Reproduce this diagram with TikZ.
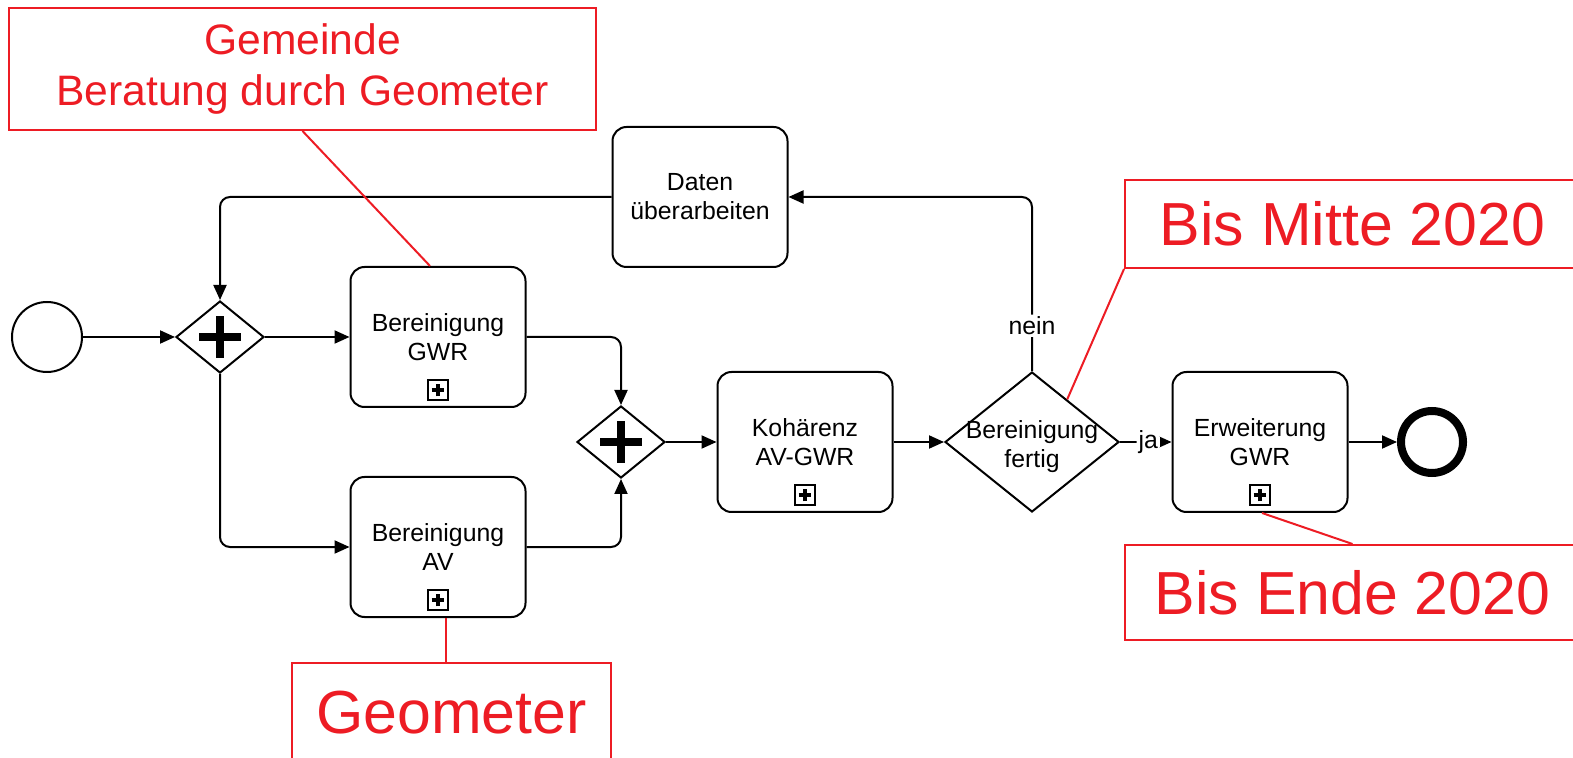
\documentclass[tikz,border=0pt]{standalone}
\usepackage{fontspec}
\setmainfont{Liberation Sans}
\usetikzlibrary{shapes.geometric,arrows.meta,calc}
\definecolor{annred}{RGB}{237,28,36}

\begin{document}
\begin{tikzpicture}[x=0.5pt, y=-0.5pt,
        flow/.style={draw=black, line width=1pt, rounded corners=5pt, -{Triangle[length=7.5pt,width=6.5pt]}},
        task/.style={draw, line width=1pt, rounded corners=7pt, minimum width=87.5pt, minimum height=70pt, align=center, font=\fontsize{12.4}{14.5}\selectfont, inner sep=0pt},
        subproc/.style={draw, line width=0.8pt, minimum size=10pt, inner sep=0pt, path picture={
            \draw[line width=1.8pt] ([xshift=-3.2pt]path picture bounding box.center) -- ++(6.4pt,0)
                ([yshift=-3.2pt]path picture bounding box.center) -- ++(0,6.4pt);}},
        parallel/.style={draw, diamond, aspect=1.22, line width=1pt, minimum width=44pt, minimum height=36pt, inner sep=0pt, path picture={
            \draw[line width=4pt] ([xshift=-10.5pt]path picture bounding box.center) -- ++(21pt,0)
                ([yshift=-10.5pt]path picture bounding box.center) -- ++(0,21pt);}},
        decision/.style={draw, diamond, aspect=1.243, line width=1pt, minimum width=87pt, minimum height=70pt, inner sep=0pt},
        tasktext/.style={align=center, inner sep=0pt, font=\fontsize{12.4}{14.5}\selectfont},
        startevent/.style={draw, circle, line width=1pt, minimum size=35pt, inner sep=0pt},
        endevent/.style={draw, circle, line width=4pt, minimum size=31pt, inner sep=0pt},
        flowlabel/.style={fill=white, inner sep=1pt, font=\fontsize{12.4}{14.5}\selectfont},
        annote/.style={draw=annred, line width=1pt, text=annred, align=center, inner sep=0pt},
        annline/.style={draw=annred, line width=1pt}]
    \useasboundingbox (0,0) rectangle (1573,758);

    \node[startevent] (start) at (47,337) {};
    \node[parallel] (split) at (220,337) {};
    \node[task] (gwr) at (438,337) {Bereinigung\\GWR};
    \node[task] (av) at (438,547) {Bereinigung\\AV};
    \node[parallel] (join) at (621,442) {};
    \node[task] (koh) at (805,442) {Kohärenz\\AV-GWR};
    \node[decision] (fertig) at (1032,442) {};
    \node[tasktext] (fertig-text) at ([yshift=-2.5pt]fertig.center) {Bereinigung\\fertig};
    \node[task] (erw) at (1260,442) {Erweiterung\\GWR};
    \node[endevent] (end) at (1432,442) {};
    \node[task] (daten) at (700,197) {Daten\\überarbeiten};

    \foreach \t in {gwr,av,koh,erw}
        \node[subproc] (\t-marker) at ([yshift=9pt]\t.south) {};

    \draw[flow] (start) -- (split);
    \draw[flow] (split) -- (gwr);
    \draw[flow] (split.south) |- (av);
    \draw[flow] (gwr) -| (join.north);
    \draw[flow] (av) -| (join.south);
    \draw[flow] (join) -- (koh);
    \draw[flow] (koh) -- (fertig);
    \draw[flow] (fertig) -- node[flowlabel, pos=0.55] (ja) {ja} (erw);
    \draw[flow] (erw) -- (end);
    \draw[flow] (fertig.north) |- node[flowlabel, pos=0.13] (nein) {nein} (daten);
    \draw[flow] (daten) -| (split.north);

    \node[annote, minimum width=293.5pt, minimum height=61pt, font=\fontsize{21.3}{25.5}\selectfont] (gemnote) at (302.5,69) {Gemeinde\\Beratung durch Geometer};
    \node[annote, minimum width=227.5pt, minimum height=44pt, font=\fontsize{30.4}{36}\selectfont] (mitte) at (1352.5,224) {Bis Mitte 2020};
    \node[annote, minimum width=227.5pt, minimum height=47.5pt, font=\fontsize{30.4}{36}\selectfont] (ende) at (1352.5,592.5) {Bis Ende 2020};
    \node[annote, minimum width=159.5pt, minimum height=50pt, font=\fontsize{30.4}{36}\selectfont] (geonote) at (451.5,713) {Geometer};

    \draw[annline] (gemnote.south) -- ([xshift=-4pt]gwr.north);
    \draw[annline] (mitte.south west) -- ($(fertig.north)!0.4!(fertig.east)$);
    \draw[annline] (ende.north) -- ([xshift=1pt]erw.south);
    \draw[annline] ([xshift=4pt]av.south) -- ([xshift=4pt]av.south |- geonote.north);
\end{tikzpicture}
\end{document}
